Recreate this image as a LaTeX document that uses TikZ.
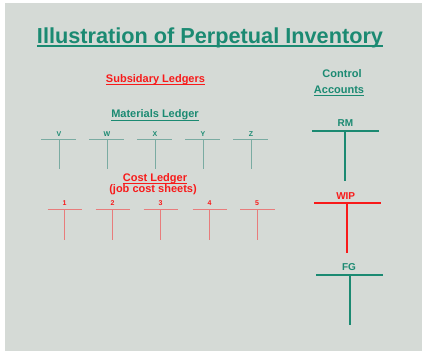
\documentclass[tikz,border=0pt]{standalone}
\usepackage{fontspec}
\setmainfont{Liberation Sans}
\definecolor{bg}{HTML}{D5DAD6}
\definecolor{teal1}{HTML}{1B8A72}
\definecolor{teallt}{HTML}{7AABA2}
\definecolor{red1}{HTML}{F81A1A}
\definecolor{redlt}{HTML}{E87C7C}
\begin{document}
\begin{tikzpicture}[x=1pt,y=-1pt,
  txt/.style={inner sep=0pt,anchor=base,font=\bfseries\fontsize{11}{13}\selectfont},
  small/.style={inner sep=0pt,anchor=base,font=\bfseries\fontsize{7}{8}\selectfont},
  ctl/.style={inner sep=0pt,anchor=base,font=\bfseries\fontsize{10}{12}\selectfont},
  matline/.style={draw=teallt,line width=0.9pt},
  costline/.style={draw=redlt,line width=0.9pt},
  ctlline/.style={line width=2.2pt}]
\useasboundingbox (0,0) rectangle (422,351);
\fill[white] (0,0) rectangle (422,351);
\fill[bg] (5,3) rectangle (422,351);
% title
\node[txt,text=teal1,font=\bfseries\fontsize{21.7}{24}\selectfont] (title) at (210,43) {Illustration of Perpetual Inventory};
\draw[teal1,line width=1.8pt] ([yshift=-3pt]title.base west) -- ([yshift=-3pt]title.base east);
% subsidiary
\node[txt,text=red1] (sub) at (155.5,82.5) {Subsidary Ledgers};
\draw[red1,line width=1pt] ([yshift=-2pt]sub.base west) -- ([yshift=-2pt]sub.base east);
\node[txt,text=teal1] (ctl1) at (342,77.5) {Control};
\node[txt,text=teal1] (ctl2) at (339,93) {Accounts};
\draw[teal1,line width=1pt] ([yshift=-2.5pt]ctl2.base west) -- ([yshift=-2.5pt]ctl2.base east);
\node[txt,text=teal1] (mat) at (155,117.5) {Materials Ledger};
\draw[teal1,line width=1pt] ([yshift=-3pt]mat.base west) -- ([yshift=-3pt]mat.base east);
\node[txt,text=red1] (cost) at (155,181) {Cost Ledger};
\draw[red1,line width=1pt] ([yshift=-2.5pt]cost.base west) -- ([yshift=-2.5pt]cost.base east);
\node[txt,text=red1] (job) at (153,192.5) {(job cost sheets)};
% materials ledger T accounts
\foreach \n/\x in {V/59,W/107,X/155,Y/203,Z/251}{
  \node[small,text=teal1] (m\n) at (\x,136) {\n};
  \draw[matline] (\x-18,139) -- (\x+17,139);
  \draw[matline] (\x,139) -- (\x,169);
}
% cost ledger T accounts
\foreach \n/\x in {1/64.5,2/112.5,3/160.5,4/209.5,5/257}{
  \node[small,text=red1] (c\n) at (\x,205.5) {\n};
  \draw[costline] (\x-17,209.3) -- (\x+17.5,209.3);
  \draw[costline] (\x,209.3) -- (\x,240);
}
% control accounts
\node[ctl,text=teal1] (rm) at (345.5,126) {RM};
\draw[ctlline,teal1] (312.3,131) -- (379,131);
\draw[ctlline,teal1] (345.3,131) -- (345.3,181.3);
\node[ctl,text=red1] (wip) at (345.7,199) {WIP};
\draw[ctlline,red1] (314.3,203.3) -- (380.7,203.3);
\draw[ctlline,red1] (347.3,203.3) -- (347.3,253);
\node[ctl,text=teal1] (fg) at (349,270.5) {FG};
\draw[ctlline,teal1] (316,274.7) -- (383,274.7);
\draw[ctlline,teal1] (349.7,274.7) -- (349.7,325);
\end{tikzpicture}
\end{document}
